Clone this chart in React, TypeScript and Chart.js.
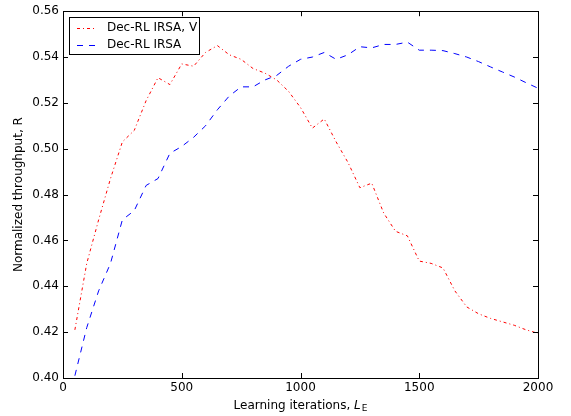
import React, { useEffect, useRef } from "react";
import { Chart, registerables } from "chart.js";

Chart.register(...registerables);

const iterations = [50, 100, 150, 200, 250, 300, 350, 400, 450, 500, 550, 600, 650, 700, 750, 800, 850, 900, 950, 1000,
  1050, 1100, 1150, 1200, 1250, 1300, 1350, 1400, 1450, 1500, 1550, 1600, 1650, 1700, 1750, 1800, 1850, 1900, 1950, 2000];

const decRlIrsaV = [0.421, 0.450, 0.469, 0.487, 0.503, 0.508, 0.521, 0.531, 0.528, 0.537, 0.536, 0.542, 0.545, 0.541, 0.539, 0.535, 0.533, 0.530, 0.525, 0.518,
  0.509, 0.513, 0.503, 0.494, 0.483, 0.485, 0.472, 0.464, 0.462, 0.451, 0.450, 0.448, 0.438, 0.431, 0.428, 0.426, 0.4245, 0.423, 0.421, 0.4195];

const decRlIrsa = [0.401, 0.422, 0.438, 0.450, 0.469, 0.473, 0.484, 0.487, 0.498, 0.501, 0.505, 0.510, 0.517, 0.523, 0.527, 0.527, 0.530, 0.532, 0.536, 0.539,
  0.540, 0.542, 0.539, 0.541, 0.5445, 0.544, 0.5455, 0.5455, 0.5465, 0.543, 0.543, 0.5428, 0.5415, 0.540, 0.538, 0.5357, 0.5335, 0.5313, 0.5288, 0.5264];

const seriesLabels = ["Dec-RL IRSA, V", "Dec-RL IRSA"];
const xTitle = "Learning iterations, ";
const yTitle = "Normalized throughput, R";

const FONT = "DejaVu Sans";
const RED_DASH = [3, 3, 1, 3];
const BLUE_DASH = [6, 6];

export default function App() {
  const ref = useRef<HTMLCanvasElement | null>(null);

  useEffect(() => {
    document.body.style.margin = "0";
    const canvas = ref.current!;
    const framePlugin = {
      id: "frame",
      afterDraw(chart: any) {
        const { ctx, chartArea: a, scales } = chart;
        ctx.save();
        ctx.strokeStyle = "#000";
        ctx.lineWidth = 1;
        ctx.setLineDash([]);
        ctx.strokeRect(Math.round(a.left) + 0.5, Math.round(a.top) + 0.5, Math.round(a.right - a.left), Math.round(a.bottom - a.top));
        // inward ticks
        const xs = scales.x, ys = scales.y;
        ctx.beginPath();
        xs.ticks.forEach((t: any) => {
          const px = Math.round(xs.getPixelForValue(t.value)) + 0.5;
          ctx.moveTo(px, a.bottom); ctx.lineTo(px, a.bottom - 5);
          ctx.moveTo(px, a.top); ctx.lineTo(px, a.top + 5);
        });
        ys.ticks.forEach((t: any) => {
          const py = Math.round(ys.getPixelForValue(t.value)) + 0.5;
          ctx.moveTo(a.left, py); ctx.lineTo(a.left + 5, py);
          ctx.moveTo(a.right, py); ctx.lineTo(a.right - 5, py);
        });
        ctx.stroke();

        // legend
        const lx = a.left + 6, ly = a.top + 6, lw = 130, lh = 37;
        ctx.fillStyle = "#fff";
        ctx.fillRect(lx, ly, lw, lh);
        ctx.strokeRect(Math.round(lx) + 0.5, Math.round(ly) + 0.5, lw, lh);
        const entries = [
          { label: seriesLabels[0], color: "#ff0000", dash: RED_DASH, y: ly + 10.5 },
          { label: seriesLabels[1], color: "#0000ff", dash: BLUE_DASH, y: ly + 28 },
        ];
        ctx.font = `12px "${FONT}"`;
        ctx.textBaseline = "middle";
        entries.forEach((e) => {
          ctx.beginPath();
          ctx.strokeStyle = e.color;
          ctx.setLineDash(e.dash);
          ctx.moveTo(lx + 8, Math.round(e.y) + 0.5);
          ctx.lineTo(lx + 26, Math.round(e.y) + 0.5);
          ctx.stroke();
          ctx.fillStyle = "#000";
          ctx.fillText(e.label, lx + 38, e.y);
        });
        ctx.setLineDash([]);

        // axis titles
        ctx.fillStyle = "#000";
        ctx.textBaseline = "alphabetic";
        const cx = (a.left + a.right) / 2;
        ctx.font = `12px "${FONT}"`;
        const w1 = ctx.measureText(xTitle).width;
        ctx.font = `italic 12px "${FONT}"`;
        const w2 = ctx.measureText("L").width;
        ctx.font = `9px "${FONT}"`;
        const w3 = ctx.measureText("E").width;
        const total = w1 + w2 + w3 + 1;
        let x0 = cx - total / 2;
        const by = 409;
        ctx.textAlign = "left";
        ctx.font = `12px "${FONT}"`;
        ctx.fillText(xTitle, x0, by);
        x0 += w1;
        ctx.font = `italic 12px "${FONT}"`;
        ctx.fillText("L", x0, by);
        x0 += w2 + 1;
        ctx.font = `9px "${FONT}"`;
        ctx.fillText("E", x0, by + 2);

        ctx.save();
        ctx.translate(22, (a.top + a.bottom) / 2);
        ctx.rotate(-Math.PI / 2);
        ctx.textAlign = "center";
        ctx.font = `12px "${FONT}"`;
        ctx.fillText(yTitle, 0, 0);
        ctx.restore();
        ctx.restore();
      },
    };

    const chart = new Chart(canvas, {
      type: "line",
      data: {
        datasets: [
          {
            label: seriesLabels[0],
            data: iterations.map((x, i) => ({ x, y: decRlIrsaV[i] })),
            borderColor: "#ff0000",
            borderWidth: 1,
            borderDash: RED_DASH,
            pointRadius: 0,
            fill: false,
            tension: 0,
          },
          {
            label: seriesLabels[1],
            data: iterations.map((x, i) => ({ x, y: decRlIrsa[i] })),
            borderColor: "#0000ff",
            borderWidth: 1,
            borderDash: BLUE_DASH,
            pointRadius: 0,
            fill: false,
            tension: 0,
          },
        ],
      },
      options: {
        responsive: false,
        animation: false,
        layout: { padding: { left: 0, right: 33, top: 10, bottom: 0 } },
        plugins: { legend: { display: false }, tooltip: { enabled: false } },
        scales: {
          x: {
            type: "linear",
            min: 0,
            max: 2000,
            ticks: {
              stepSize: 500,
              color: "#000",
              font: { family: FONT, size: 12 },
              padding: 3,
              maxRotation: 0,
              callback: (v: any) => String(v),
            },
            grid: { display: false, drawTicks: false },
            border: { display: false },
            afterFit: (s: any) => { s.height = 38; },
          },
          y: {
            min: 0.4,
            max: 0.56,
            ticks: {
              stepSize: 0.02,
              color: "#000",
              font: { family: FONT, size: 12 },
              padding: 4,
              callback: (v: any) => Number(v).toFixed(2),
            },
            grid: { display: false, drawTicks: false },
            border: { display: false },
            afterFit: (s: any) => { s.width = 63; },
          },
        },
      },
      plugins: [framePlugin],
    });
    return () => chart.destroy();
  }, []);

  return (
    <div style={{ width: 571, height: 416, background: "#fff" }}>
      <canvas ref={ref} width={571} height={416} />
    </div>
  );
}
